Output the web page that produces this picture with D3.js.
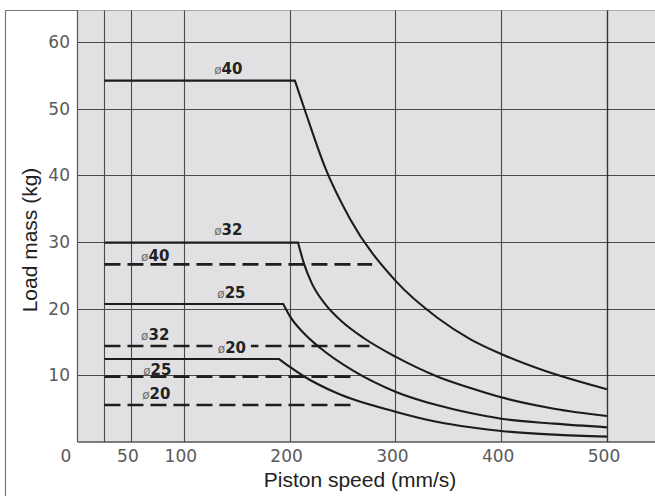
<!DOCTYPE html>
<html lang="en">
  <head>
    <meta charset="utf-8">
    <title>Load mass vs piston speed</title>
    <script src="https://cdn.jsdelivr.net/npm/d3@7"></script>
    <style>
      body { margin: 0; background: #fff; }
      svg { display: block; }
    </style>
  </head>
  <body>
    <script>
      // ---- data ----
      var xTicks = [0, 50, 100, 200, 300, 400, 500];
      var xGrid = [25, 50, 100, 200, 300, 400, 500];
      var yTicks = [10, 20, 30, 40, 50, 60];

      // solid lines: [speed, mass], first two points are the flat part
      var solid40 = [[25, 54.2], [205, 54.2], [215, 49.5], [234, 41.0], [257, 33.5], [300, 24.2], [340, 18.6], [371, 15.4], [400, 13.2], [437, 10.9], [500, 7.9]];
      var solid32 = [[25, 29.9], [208, 29.9], [213.5, 26.8], [221, 23.8], [234, 20.6], [250, 18.0], [270, 15.6], [300, 12.8], [340, 9.8], [371, 8.1], [400, 6.7], [450, 5.0], [500, 3.9]];
      var solid25 = [[25, 20.7], [194, 20.7], [200.5, 18.8], [213, 16.4], [229, 14.1], [260, 10.7], [300, 7.55], [340, 5.5], [371, 4.35], [400, 3.5], [450, 2.75], [500, 2.2]];
      var solid20 = [[25, 12.45], [190, 12.45], [200, 11.3], [213, 9.9], [245, 7.3], [300, 4.55], [340, 3.0], [371, 2.2], [400, 1.65], [450, 1.1], [500, 0.8]];

      // dashed lines (flat)
      var dashedBore = ["40", "32", "25", "20"];
      var dashedMass = [26.65, 14.4, 9.8, 5.55];
      var dashedFrom = [25, 25, 25, 25];
      var dashedTo = [278, 275.5, 260, 264];

      // bore labels, anchored in data units
      var labelText = ["40", "32", "40", "25", "32", "20", "25", "20"];
      var labelSpeed = [142, 142, 73, 145, 73, 145.5, 75, 74];
      var labelMass = [55.2, 31.05, 27.2, 21.65, 15.3, 13.4, 10.05, 6.4];
      var labelMasked = [false, false, false, false, false, true, false, false];

      var W = 655, H = 496;
      var bg = "#e1e1e3";

      var svg = d3.select("body").append("svg")
                  .attr("width", W)
                  .attr("height", H);

      var x = d3.scaleLinear().domain([0, 500]).range([78, 607]);
      var y = d3.scaleLinear().domain([0, 60]).range([442, 42]);

      var plotTop = 10.5, plotBottom = 442, plotLeft = 77.5, plotRight = W;

      // outer frame (top + left)
      svg.append("line").attr("x1", 5.5).attr("x2", W).attr("y1", plotTop).attr("y2", plotTop)
         .attr("stroke", "#777").attr("stroke-width", 1.2);
      svg.append("line").attr("x1", 5.5).attr("x2", 5.5).attr("y1", plotTop).attr("y2", H)
         .attr("stroke", "#777").attr("stroke-width", 1.2);

      // grey plot area
      svg.append("rect")
         .attr("x", plotLeft).attr("y", plotTop)
         .attr("width", plotRight - plotLeft).attr("height", plotBottom - plotTop)
         .attr("fill", bg);

      // grid
      svg.selectAll(".hgrid").data(yTicks).enter().append("line")
         .attr("x1", plotLeft).attr("x2", plotRight)
         .attr("y1", function(d) { return Math.round(y(d)) + 0.5; })
         .attr("y2", function(d) { return Math.round(y(d)) + 0.5; })
         .attr("stroke", "#4a4a4a").attr("stroke-width", 1.1);
      svg.selectAll(".vgrid").data(xGrid).enter().append("line")
         .attr("x1", function(d) { return Math.round(x(d)) + 0.5; })
         .attr("x2", function(d) { return Math.round(x(d)) + 0.5; })
         .attr("y1", plotTop).attr("y2", plotBottom)
         .attr("stroke", "#4a4a4a").attr("stroke-width", 1.1);

      // plot border left + bottom
      svg.append("line").attr("x1", plotLeft).attr("x2", plotLeft).attr("y1", plotTop).attr("y2", plotBottom)
         .attr("stroke", "#555").attr("stroke-width", 1.2);
      svg.append("line").attr("x1", plotLeft).attr("x2", plotRight).attr("y1", plotBottom).attr("y2", plotBottom)
         .attr("stroke", "#555").attr("stroke-width", 1.4);

      // tick labels
      svg.selectAll(".ytick").data(yTicks).enter().append("text")
         .attr("x", 70).attr("y", function(d) { return y(d); })
         .attr("dy", "0.36em")
         .attr("text-anchor", "end")
         .attr("font-family", "DejaVu Sans").attr("font-size", 17)
         .attr("fill", "#5a5a5a")
         .text(function(d) { return d; });
      svg.selectAll(".xtick").data(xTicks).enter().append("text")
         .attr("x", function(d) { return d === 0 ? x(d) - 12 : x(d) - 3; })
         .attr("y", 461.5)
         .attr("text-anchor", "middle")
         .attr("font-family", "DejaVu Sans").attr("font-size", 17)
         .attr("fill", "#5a5a5a")
         .text(function(d) { return d; });

      // axis titles
      svg.append("text")
         .attr("x", 360).attr("y", 487)
         .attr("text-anchor", "middle")
         .attr("font-family", "Liberation Sans").attr("font-size", 21)
         .attr("fill", "#222")
         .text("Piston speed (mm/s)");
      svg.append("text")
         .attr("transform", "translate(37,240) rotate(-90)")
         .attr("text-anchor", "middle")
         .attr("font-family", "Liberation Sans").attr("font-size", 21)
         .attr("fill", "#222")
         .text("Load mass (kg)");

      // dashed lines
      svg.selectAll(".dash").data(dashedMass).enter().append("line")
         .attr("x1", function(d, i) { return x(dashedFrom[i]); })
         .attr("x2", function(d, i) { return x(dashedTo[i]); })
         .attr("y1", function(d) { return y(d); })
         .attr("y2", function(d) { return y(d); })
         .attr("stroke", "#1e1e1e").attr("stroke-width", 2.6)
         .attr("stroke-dasharray", "16,7");

      // solid lines: straight flat part + smooth falling part
      var flat = d3.line().x(function(d) { return x(d[0]); }).y(function(d) { return y(d[1]); });
      var fall = d3.line().x(function(d) { return x(d[0]); }).y(function(d) { return y(d[1]); })
                   .curve(d3.curveMonotoneX);
      [solid40, solid32, solid25, solid20].forEach(function(pts) {
        svg.append("path")
           .attr("d", flat(pts.slice(0, 2)) + fall(pts.slice(1)).replace(/^M/, "L"))
           .attr("fill", "none")
           .attr("stroke", "#1c1c1c").attr("stroke-width", 2.1)
           .attr("stroke-linejoin", "miter");
      });

      // 500 mm/s end line (already a grid line, redraw darker)
      svg.append("line")
         .attr("x1", Math.round(x(500)) + 0.5).attr("x2", Math.round(x(500)) + 0.5)
         .attr("y1", plotTop).attr("y2", plotBottom)
         .attr("stroke", "#333").attr("stroke-width", 1.3);

      // bore labels
      var lab = svg.selectAll(".lab").data(labelText).enter().append("g")
                   .attr("transform", function(d, i) {
                     return "translate(" + x(labelSpeed[i]) + "," + y(labelMass[i]) + ")";
                   });
      lab.filter(function(d, i) { return labelMasked[i]; })
         .append("rect")
         .attr("x", -19).attr("y", -13).attr("width", 38).attr("height", 16)
         .attr("fill", bg);
      var t = lab.append("text")
                 .attr("text-anchor", "middle")
                 .attr("font-family", "DejaVu Sans");
      t.append("tspan")
       .attr("font-size", 12).attr("fill", "#6a6a6a")
       .text("ø");
      t.append("tspan")
       .attr("font-size", 15).attr("font-weight", "bold").attr("fill", "#222")
       .text(function(d) { return d; });
    </script>
  </body>
</html>
